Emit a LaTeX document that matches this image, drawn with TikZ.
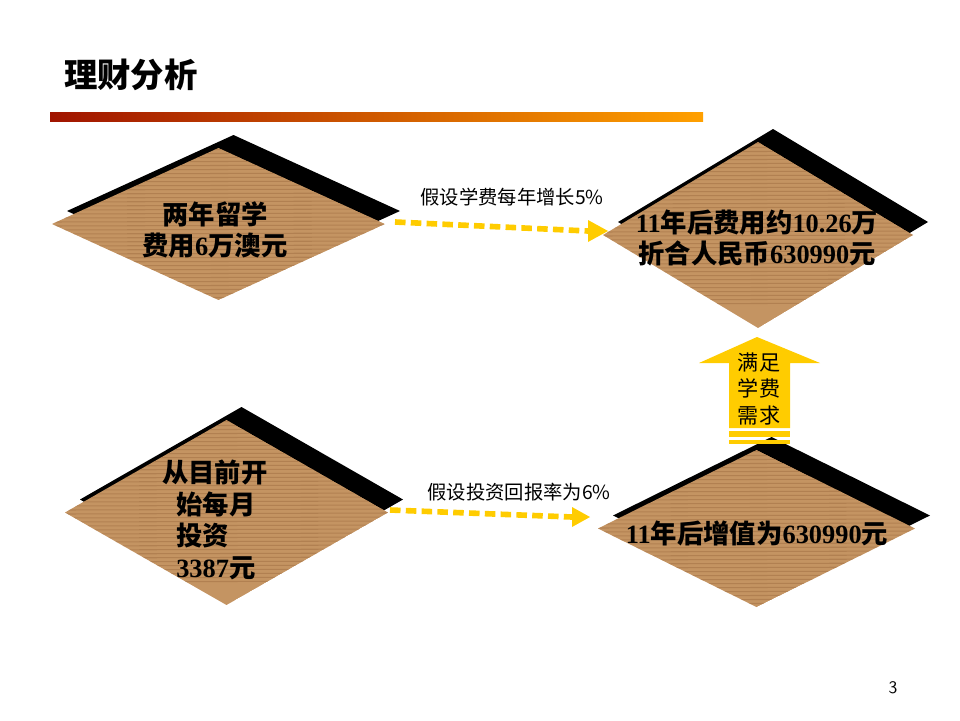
\documentclass[tikz,border=0pt]{standalone}
\usepackage{fontspec}
\setmainfont{Liberation Serif}
\newfontfamily\cjk{Noto Sans CJK SC}
\usetikzlibrary{positioning}
\definecolor{wood}{RGB}{196,148,98}
\definecolor{woodline}{RGB}{160,110,65}
\definecolor{arrowyellow}{RGB}{255,204,0}
\newcommand\woodbox[5]{% name, left x, top y, right x, bottom y (centre row)
  \coordinate (#1l) at (#2,{(#3+#5)/2});
  \coordinate (#1t) at ({(#2+#4)/2},#3);
  \coordinate (#1r) at (#4,{(#3+#5)/2});
  \coordinate (#1b) at ({(#2+#4)/2},#5);
  \fill[black] ([shift={(15,-13)}]#1l) -- ([shift={(15,-13)}]#1t) -- ([shift={(15,-13)}]#1r) -- ([shift={(15,-13)}]#1b) -- cycle;
  \begin{scope}
    \clip (#1l) -- (#1t) -- (#1r) -- (#1b) -- cycle;
    \fill[wood] (#1l) -- (#1t) -- (#1r) -- (#1b) -- cycle;
    \foreach \k in {0,...,40}
      \draw[woodline, line width=0.6pt, opacity=0.5] (#2,#3+\k*4+2) -- (#4,#3+\k*4+1);
  \end{scope}
  \coordinate (#1) at ({(#2+#4)/2},{(#3+#5)/2});
}
\tikzset{
  boxtext/.style={font=\cjk\bfseries\fontsize{15}{18}\selectfont, align=center, inner sep=0pt},
  steplabel/.style={font=\cjk\fontsize{11}{13}\selectfont, inner sep=1pt},
  dasharrow/.style={arrowyellow, line width=3.2pt, dash pattern=on 6pt off 3pt}
}
\newcommand\num[1]{{\rmfamily\bfseries #1}}
\begin{document}
\begin{tikzpicture}[x=0.02cm, y=-0.02cm]
\useasboundingbox (0,0) rectangle (960,720);

% title
\node[font=\cjk\bfseries\fontsize{19}{22}\selectfont, anchor=west] (title) at (58,75) {理财分析};
\shade[left color={rgb,255:red,160;green,20;blue,0}, right color={rgb,255:red,255;green,160;blue,0}] (50,112) rectangle (703,121);

% diamonds
\woodbox{d1}{52}{148}{385}{300}
\woodbox{d2}{603}{142}{913}{328}
\woodbox{d3}{65}{420}{388}{605}
\woodbox{d4}{598}{450}{915}{607}

\node[boxtext] (t1) at (215,230) {两年留学\\费用\num{6}万澳元};
\node[boxtext] (t2) at (757,238) {\num{11}年后费用约\num{10.26}万\\折合人民币\num{630990}元};
\node[boxtext, align=left] (t3) at (222,520) {\hspace*{-20\pgflinewidth}从目前开\\始每月\\投资\\\num{3387}元};
\node[boxtext] (t4) at (757,533) {\num{11}年后增值为\num{630990}元};

% dashed arrows
\coordinate (a1s) at (395,222);
\coordinate (a1e) at (588,231);
\draw[dasharrow] (a1s) -- (a1e);
\fill[arrowyellow] (a1e) ++(0,-11) -- ++(20,11) -- ++(-20,11) -- cycle;
\node[steplabel] (l1) at (512,197) {假设学费每年增长5\%};

\coordinate (a2s) at (390,510);
\coordinate (a2e) at (572,517);
\draw[dasharrow] (a2s) -- (a2e);
\fill[arrowyellow] (a2e) ++(0,-10) -- ++(18,10) -- ++(-18,10) -- cycle;
\node[steplabel] (l2) at (519,492) {假设投资回报率为6\%};

% up arrow
\fill[arrowyellow] (729,428) -- (729,363) -- (699,363) -- (757,337) -- (820,363) -- (790,363) -- (790,428) -- cycle;
\fill[arrowyellow] (729,431) rectangle (790,437);
\fill[arrowyellow] (729,440) rectangle (790,444);
\node[font=\cjk\fontsize{12}{15}\selectfont, align=center, inner sep=0pt] (up) at (759,389) {满足\\学费\\需求};

\node[font=\fontsize{10}{12}\selectfont\sffamily] (page) at (893,688) {3};
\end{tikzpicture}
\end{document}
